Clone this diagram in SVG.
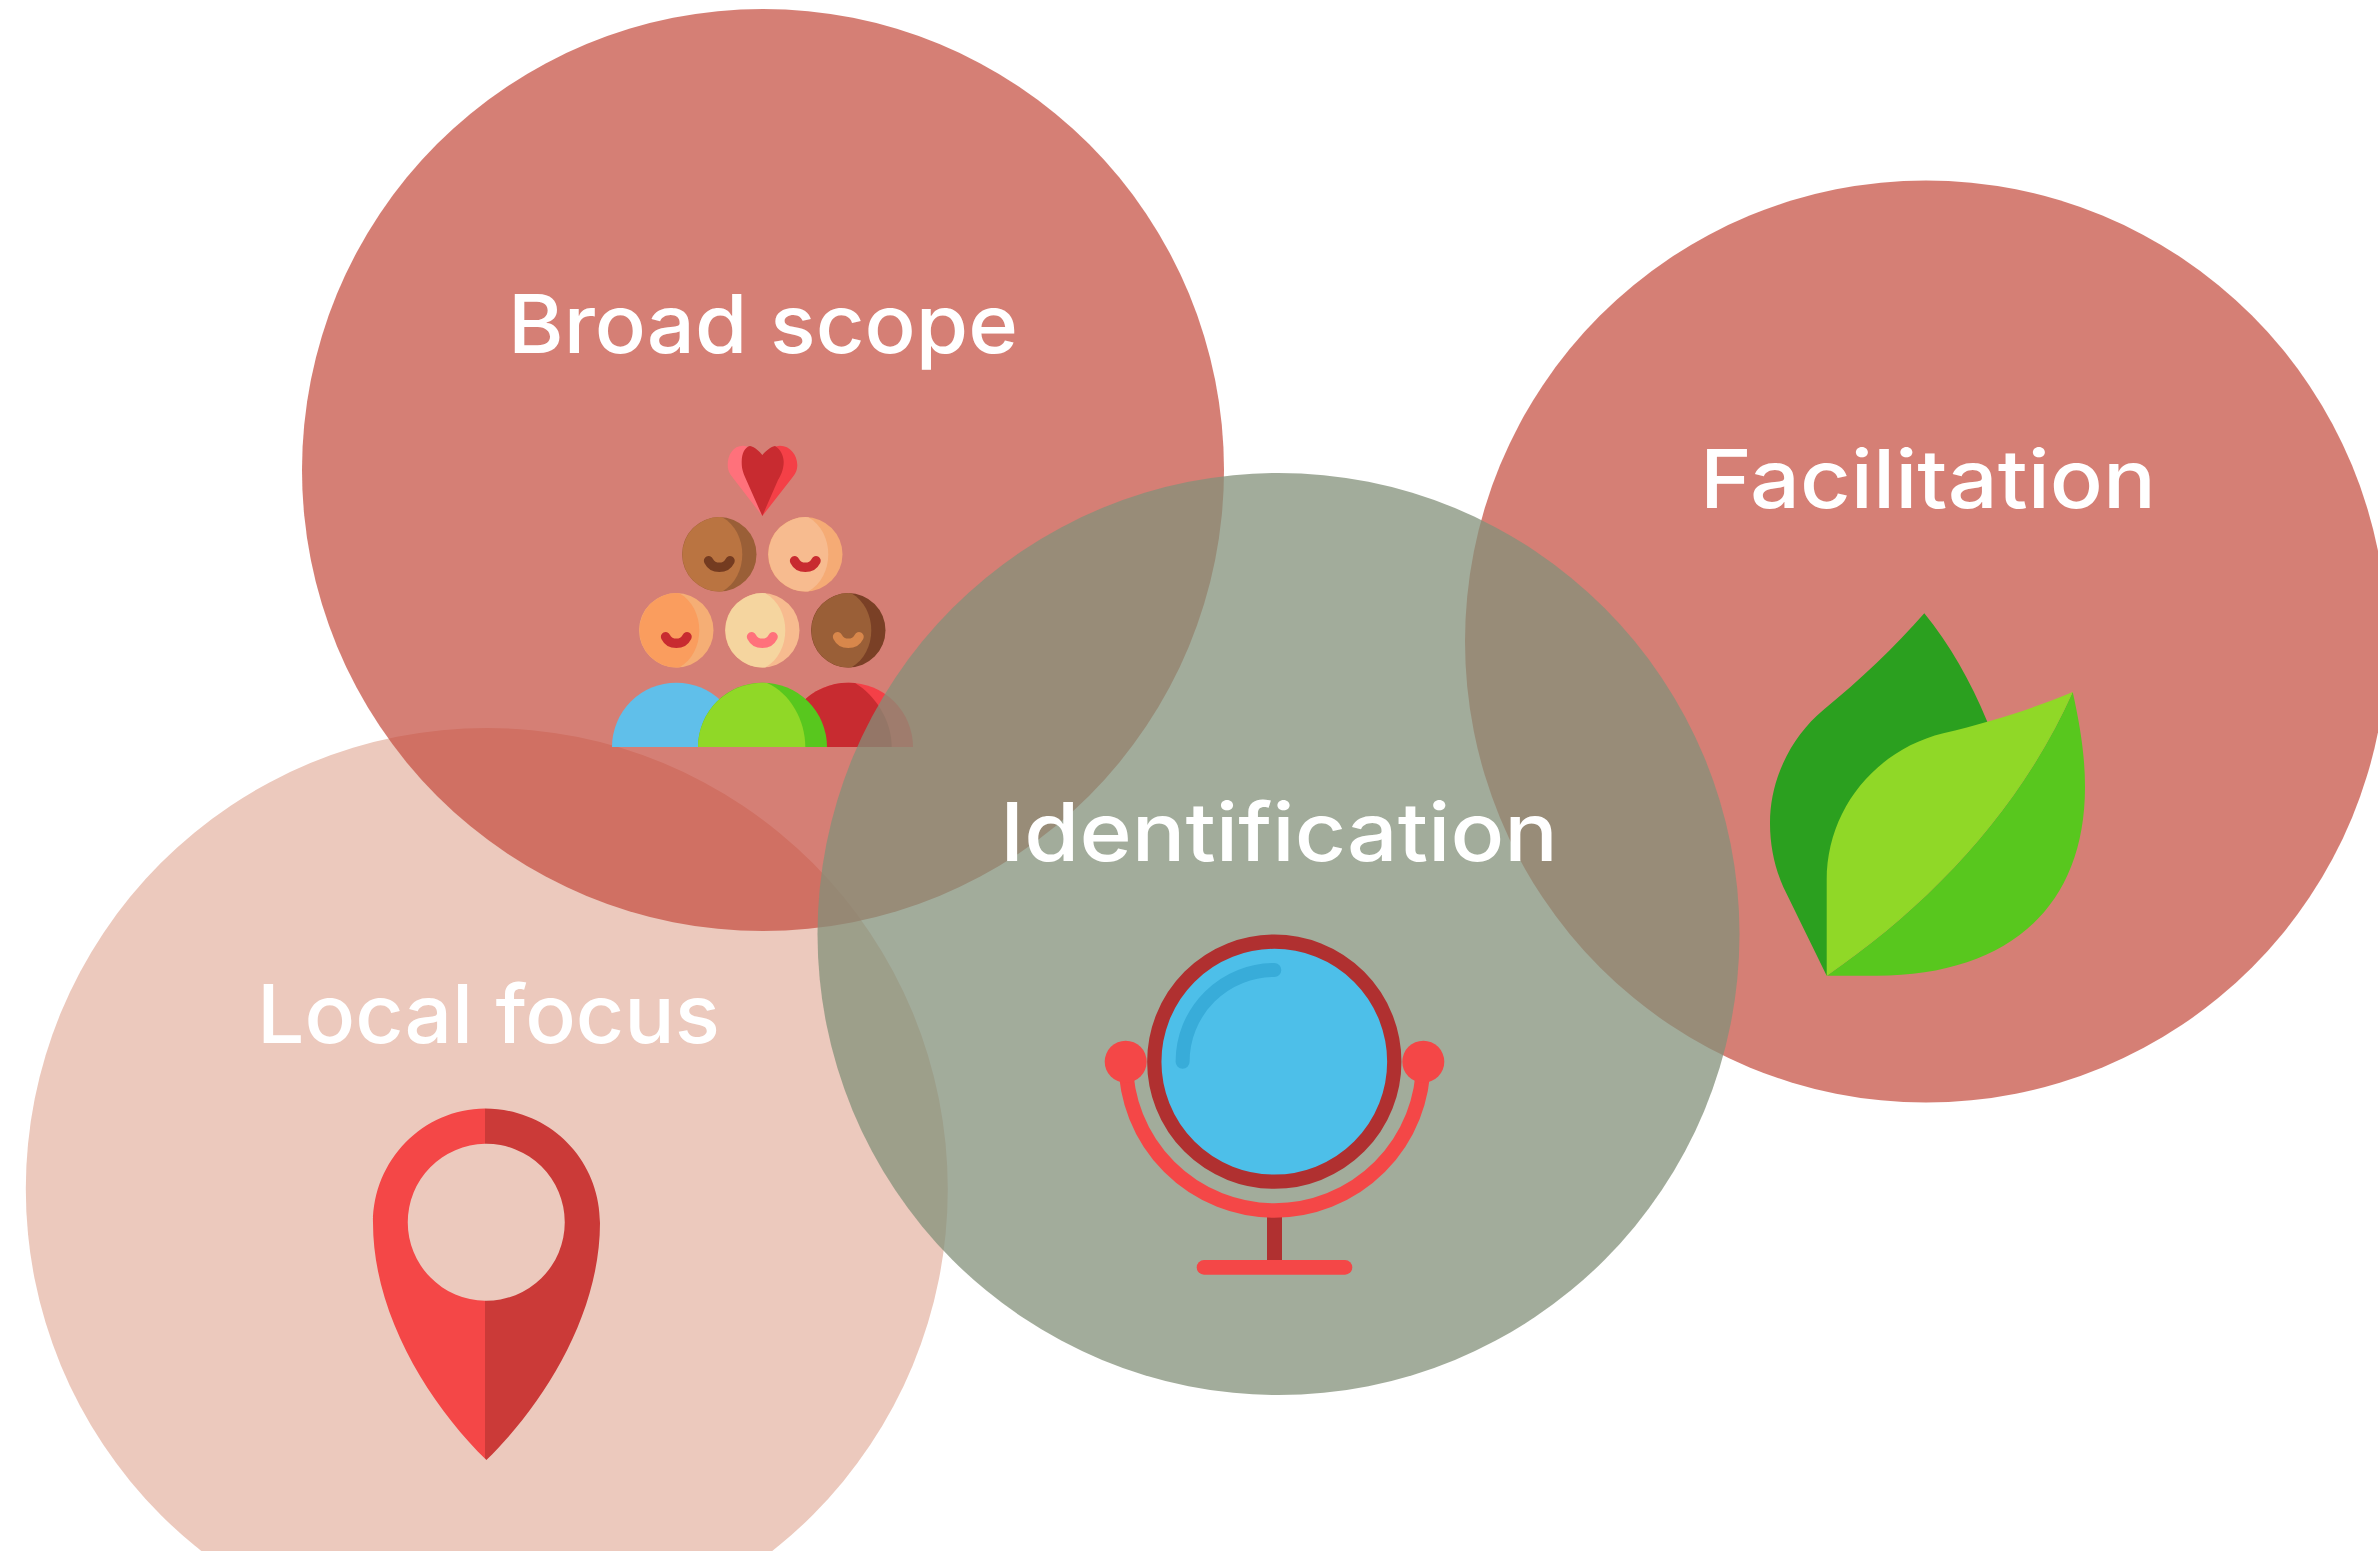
<svg xmlns="http://www.w3.org/2000/svg" width="2378" height="1551" viewBox="0 0 2378 1551">
<style>
.lbl{font-family:"Inter","Liberation Sans",sans-serif;font-size:81px;font-weight:500;fill:#fff;font-variant-ligatures:none}
.c{opacity:.72}
.g{opacity:.75}
.sm{fill:none;stroke-width:9.5;stroke-linecap:round}
</style>
<defs>
<path id="hm" d="M3,-37.1A37.2,37.2 0 1 0 3,37.1C16,30 23,15 23,0C23,-15 16,-30 3,-37.1Z"/>
<path id="sm" d="M-10.7,6.5A12,12 0 0 0 10.7,6.5"/>
<circle id="hd" r="37.2"/>
</defs>
<rect width="2378" height="1551" fill="#fff"/>
<g id="local-focus">
<circle cx="486.8" cy="1189" r="461" fill="#ECC9BD"/>
<path fill="#F44747" d="M485,1108.5C423,1109 373,1160 373,1223C373,1315 430,1405 486.4,1460L485,1458.5V1300.79A78.5,78.5 0 0 1 485,1143.81Z"/>
<path fill="#CB3A38" d="M485,1108.5C550,1109 600,1160 600,1223C600,1315 543,1405 486.4,1460L485,1458.5V1300.79A78.5,78.5 0 1 0 485,1143.81Z"/>
<text class="lbl" x="257" y="1043.3" textLength="463" lengthAdjust="spacingAndGlyphs">Local focus</text>
</g>
<g id="broad-scope">
<circle class="c" cx="763" cy="470" r="461" fill="#C54E40"/>
<path fill="#FF717B" d="M762.3,456C755,449 748,445.7 743,445.7C733,445.7 727.7,455 727.7,465C727.7,472 731,475 733,478L762.3,516Z"/>
<path fill="#F44047" d="M762.3,516L792,478C795,474 797.3,471 797.3,465C797.3,455 790,445.7 780,445.7C775,445.7 769,449 762.3,456Z"/>
<path fill="#C82B30" d="M762.3,516L745,477C742,470 741.7,466 741.7,462C741.7,453 745,447 750,446C755,447 759,451 762.3,455C766,451 770,447 775,446C780,449 783.7,455 783.7,462C783.7,470 780,477 778,480Z"/>
<g transform="translate(719.3,554.3)"><use href="#hd" fill="#9A5F37"/><use href="#hm" fill="#BA7441"/><use href="#sm" class="sm" stroke="#743B20"/></g>
<g transform="translate(805.3,554.3)"><use href="#hd" fill="#F5AB75"/><use href="#hm" fill="#F7BB8F"/><use href="#sm" class="sm" stroke="#C82B30"/></g>
<g transform="translate(676.3,630.3)"><use href="#hd" fill="#F5AE75"/><use href="#hm" fill="#FA9D5E"/><use href="#sm" class="sm" stroke="#C82B30"/></g>
<g transform="translate(762.3,630.3)"><use href="#hd" fill="#F7BB8F"/><use href="#hm" fill="#F5D59F"/><use href="#sm" class="sm" stroke="#FF717B"/></g>
<g transform="translate(848.3,630.3)"><use href="#hd" fill="#7A4026"/><use href="#hm" fill="#9A5F37"/><use href="#sm" class="sm" stroke="#D8874B"/></g>
<path fill="#60BFEA" d="M612,747A64.3,64.3 0 0 1 740.6,747Z"/>
<path fill="#F44047" d="M784,747A64.5,64.3 0 0 1 913,747Z"/>
<path fill="#C82B30" d="M784,747A64.5,64.3 0 0 1 855,683C875,695 891.7,720 891.7,747Z"/>
<path fill="#58C71E" d="M698,747A64.5,64.3 0 0 1 827,747Z"/>
<path fill="#90D827" d="M698,747A64.5,64.3 0 0 1 767,683C790,693 805.3,720 805.3,747Z"/>
<text class="lbl" x="508" y="352.7" textLength="510" lengthAdjust="spacingAndGlyphs">Broad scope</text>
</g>
<g id="facilitation">
<circle class="c" cx="1926" cy="641.5" r="461" fill="#C54E40"/>
<path fill="#2BA01F" d="M1924.3,613.3C1895,647 1860,680 1823.3,710C1792,736 1770,778 1770,823C1770,847 1775,868 1783.3,887L1826.7,975.7L1900,800L1987.3,721.7C1970,680 1950,645 1924.3,613.3Z"/>
<path fill="#58C71E" d="M2072.7,692C2080,725 2085,755 2085,787C2085,910 2005,975.7 1876.7,975.7L1826.7,975.7C1930,905 2020,810 2072.7,692Z"/>
<path fill="#90D827" d="M1826.7,975.7V880C1826.7,810 1875,750 1943.3,733.3C1990,722 2035,708 2072.7,692C2020,810 1930,905 1826.7,975.7Z"/>
<text class="lbl" x="1700" y="508.3" textLength="456" lengthAdjust="spacingAndGlyphs">Facilitation</text>
</g>
<g id="identification">
<circle class="g" cx="1278.5" cy="934" r="461" fill="#83907A"/>
<rect x="1267" y="1215" width="15" height="48" fill="#B03030"/>
<path d="M1125.7,1061.7A148.8,148.8 0 0 0 1423.3,1061.7" fill="none" stroke="#F44747" stroke-width="14.5"/>
<rect x="1196.7" y="1260" width="155.6" height="14.7" rx="7.3" fill="#F44747"/>
<circle cx="1125.7" cy="1061.7" r="21" fill="#F44747"/>
<circle cx="1423.3" cy="1061.7" r="21" fill="#F44747"/>
<circle cx="1274.3" cy="1061.7" r="120" fill="#4DBFE9" stroke="#B03030" stroke-width="14.3"/>
<path d="M1182.6,1061.7A91.7,91.7 0 0 1 1274.3,970" fill="none" stroke="#38ACD9" stroke-width="14" stroke-linecap="round"/>
<text class="lbl" x="1000" y="861" textLength="558" lengthAdjust="spacingAndGlyphs">Identification</text>
</g>
</svg>
